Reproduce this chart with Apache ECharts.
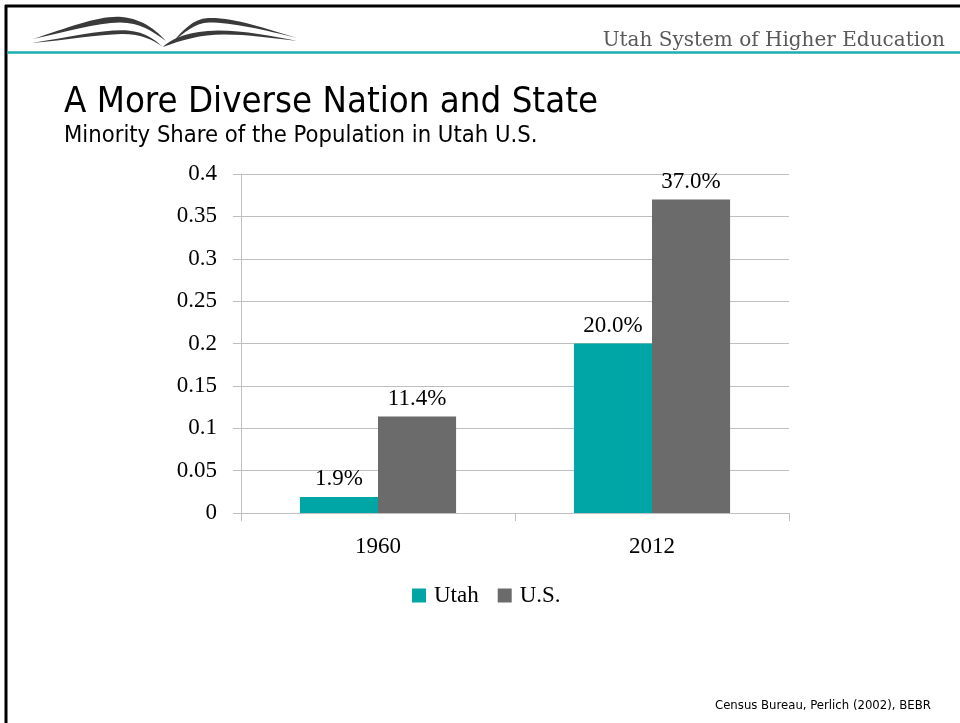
<!DOCTYPE html>
<html>
<head>
<meta charset="utf-8">
<title>A More Diverse Nation and State</title>
<script src="https://cdn.jsdelivr.net/npm/echarts@6/dist/echarts.min.js"></script>
<style>
  html, body { margin: 0; padding: 0; background: #fff; }
  #chart { width: 960px; height: 723px; }
</style>
</head>
<body>
<div id="chart"></div>
<script>
// data
const years = ['1960', '2012'];
const utahShare = [0.019, 0.200];
const usShare = [0.114, 0.370];
const seriesNames = ['Utah', 'U.S.'];

const TEAL = '#00A6A6';
const GREY = '#6B6B6B';
const AXIS = '#BFBFBF';
const SERIF = '"Liberation Serif", "DejaVu Serif", serif';
const SANS = '"DejaVu Sans Condensed", "DejaVu Sans", sans-serif';

const pct = p => (p.value * 100).toFixed(1) + '%';

// open-book logo strokes, drawn as a small inline svg
const logoSvg =
  '<svg xmlns="http://www.w3.org/2000/svg" width="280" height="40" viewBox="25 12 280 40">' +
  '<g fill="#3A3A3A">' +
  '<path d="M33,39 C70,27 100,15 122,17 C143,19 157,31 166,41 C152,31 140,22.5 120,22.5 C96,23 66,32 33,39 Z"/>' +
  '<path d="M32,43 C70,37 105,29 128,30.5 C146,32 156,41 163,47 C153,40 142,34 122,34 C98,34.5 66,40 32,43 Z"/>' +
  '<path d="M173,42 C183,30 193,19 208,18 C232,17 265,28 297,38 C265,30 232,22.5 209,22.5 C195,23 185,32 173,42 Z"/>' +
  '<path d="M163,47 C172,38 190,31 218,30.5 C245,30.5 272,36 297,41 C272,38 248,34.5 224,34.5 C200,34.5 182,40 163,47 Z"/>' +
  '</g></svg>';

const chart = echarts.init(document.getElementById('chart'));

chart.setOption({
  backgroundColor: '#fff',
  animation: false,
  title: [
    {
      text: 'A More Diverse Nation and State',
      left: 59, top: 80,
      textStyle: { fontFamily: SANS, fontSize: 36.3, fontWeight: 'normal', color: '#000' }
    },
    {
      text: 'Minority Share of the Population in Utah U.S.',
      left: 59, top: 119,
      textStyle: { fontFamily: SANS, fontSize: 23.6, fontWeight: 'normal', color: '#000' }
    },
    {
      text: 'Utah System of Higher Education',
      right: 10, top: 26,
      textStyle: { fontFamily: '"DejaVu Serif", serif', fontSize: 20, fontWeight: 'normal', color: '#595959' }
    },
    {
      text: 'Census Bureau, Perlich (2002), BEBR',
      left: 710, top: 694,
      textStyle: { fontFamily: SANS, fontSize: 13, fontWeight: 'normal', color: '#000' }
    }
  ],
  graphic: [
    { type: 'line', shape: { x1: 6, y1: 5, x2: 6, y2: 723 }, style: { stroke: '#000', lineWidth: 3 } },
    { type: 'line', shape: { x1: 5, y1: 6, x2: 960, y2: 6 }, style: { stroke: '#000', lineWidth: 3 } },
    { type: 'line', shape: { x1: 7, y1: 52.5, x2: 960, y2: 52.5 }, style: { stroke: '#1CADB0', lineWidth: 2.5 } },
    {
      type: 'image', left: 25, top: 12,
      style: { image: 'data:image/svg+xml;charset=utf-8,' + encodeURIComponent(logoSvg), width: 280, height: 40 }
    }
  ],
  legend: {
    data: seriesNames,
    left: 407, top: 579,
    icon: 'rect',
    itemWidth: 14, itemHeight: 14,
    itemGap: 19,
    textStyle: { fontFamily: SERIF, fontSize: 23, color: '#000', padding: [0, 0, 0, 3] }
  },
  grid: { left: 241, right: 171, top: 174, bottom: 210 },
  xAxis: {
    type: 'category',
    data: years,
    axisLine: { lineStyle: { color: AXIS, width: 1 } },
    axisTick: { show: true, length: 8, lineStyle: { color: AXIS } },
    axisLabel: { margin: 22, fontFamily: SERIF, fontSize: 23, color: '#000' }
  },
  yAxis: {
    type: 'value',
    min: 0, max: 0.4, interval: 0.05,
    axisLine: { show: true, lineStyle: { color: AXIS, width: 1 } },
    axisTick: { show: true, length: 8, lineStyle: { color: AXIS } },
    axisLabel: { margin: 24, fontFamily: SERIF, fontSize: 23, color: '#000' },
    splitLine: { lineStyle: { color: AXIS, width: 1 } }
  },
  series: [
    {
      name: seriesNames[0],
      type: 'bar',
      data: utahShare,
      barWidth: '28.5%',
      barGap: '0%',
      itemStyle: { color: TEAL },
      label: { show: true, position: 'top', distance: 6, formatter: pct,
               fontFamily: SERIF, fontSize: 23, color: '#000' }
    },
    {
      name: seriesNames[1],
      type: 'bar',
      data: usShare,
      barWidth: '28.5%',
      barGap: '0%',
      itemStyle: { color: GREY },
      label: { show: true, position: 'top', distance: 6, formatter: pct,
               fontFamily: SERIF, fontSize: 23, color: '#000' }
    }
  ]
});
</script>
</body>
</html>
